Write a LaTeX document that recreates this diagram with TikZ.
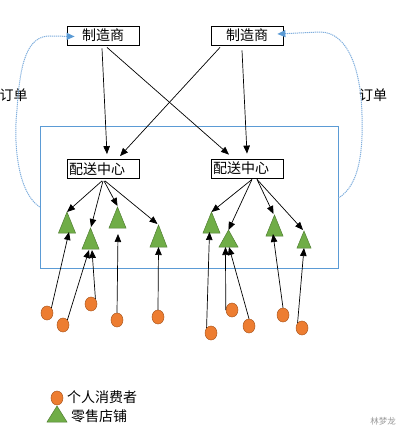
\documentclass[tikz,border=0pt]{standalone}
\usepackage{fontspec}
\setmainfont{Noto Sans CJK SC}
\usetikzlibrary{arrows.meta,calc,shapes.geometric}
\definecolor{orangefill}{HTML}{ED7D31}
\definecolor{orangeedge}{HTML}{AE5A21}
\definecolor{greenfill}{HTML}{70AD47}
\definecolor{greenedge}{HTML}{507E32}
\definecolor{frameblue}{HTML}{5B9BD5}
\definecolor{curveblue}{HTML}{7FAEDD}
\newcommand\mytri[5]{%
  \fill[trishape] (#2-#4,#3) -- (#2+#4,#3) -- (#2,#3-#5) -- cycle;
  \coordinate (#1a) at (#2,#3-#5);
  \coordinate (#1b) at (#2,#3);}
\tikzset{
  txt/.style={font=\fontsize{14}{16}\selectfont, inner sep=0pt},
  mbox/.style={draw=black, line width=0.8pt, minimum width=72pt, minimum height=19pt, inner sep=0pt, font=\fontsize{14}{16}\selectfont},
  dcbox/.style={mbox, text width=68pt, align=left},
  trishape/.style={fill=greenfill, draw=greenedge, line width=0.5pt},
  cons/.style={ellipse, fill=orangefill, draw=orangeedge, line width=0.5pt, minimum width=12pt, minimum height=14pt, inner sep=0pt},
  arr/.style={draw=black, line width=0.7pt, -{Triangle[length=8pt,width=6.5pt]}},
  order/.style={draw=curveblue, line width=1pt, dash pattern=on 1.2pt off 0.8pt, -{Triangle[length=8pt,width=7pt,fill=frameblue,color=frameblue]}},
}
\begin{document}
\begin{tikzpicture}[x=1pt,y=-1pt]
\useasboundingbox (0,0) rectangle (412,438);
% frame
\node[draw=frameblue, line width=0.8pt, minimum width=298pt, minimum height=142pt, inner sep=0pt] (zone) at (189,197) {};
% manufacturers
\node[mbox] (m1) at (103,35.5) {制造商};
\node[mbox] (m2) at (247,35.5) {制造商};
% distribution centres
\node[dcbox] (dc1) at (103,169) {配送中心};
\node[dcbox] (dc2) at (247,168.5) {配送中心};
% order labels
\node[txt] (o1) at (13.5,95) {订单};
\node[txt] (o2) at (373,95) {订单};
% order curves
\coordinate (l0) at ($(zone.west)+(0,10)$);
\coordinate (l1) at ($(m1.west)+(8,1)$);
\draw[order] (l0) .. controls (15,190) and (14,135) .. (17,110) .. controls (20,60) and (28,36) .. (50,36) -- (l1);
\coordinate (r0) at ($(zone.east)+(0,1)$);
\coordinate (r1) at ($(m2.east)+(-6,-1.5)$);
\draw[order] (r0) .. controls (360,185) and (363,150) .. (362,115) .. controls (361,70) and (348,32) .. (320,32) -- (r1);
% manufacturer -> DC
\draw[arr] ($(m1.south)+(-1,3)$) -- ($(dc1.north)+(4,-5)$);
\draw[arr] ($(m1.south)+(4,2)$) -- ($(dc2.north)+(-18,-4)$);
\draw[arr] ($(m2.south)+(-27,2)$) -- ($(dc1.north)+(17,-3)$);
\draw[arr] ($(m2.south)+(-5,5)$) -- ($(dc2.north)+(0,-5)$);
% retail shops
\mytri{t1}{67}{233}{8.5}{21}
\mytri{t2}{90.5}{249}{8.5}{21}
\mytri{t3}{117.5}{228}{8.5}{21}
\mytri{t4}{158.5}{247}{8.5}{22}
\mytri{t5}{211.5}{233}{8.5}{21}
\mytri{t6}{228.5}{247}{9.5}{17}
\mytri{t7}{274.5}{236}{8.5}{21}
\mytri{t8}{304}{248}{7}{17}
% DC -> shops
\draw[arr] ($(dc1.south)+(-1,2)$) -- (t1a);
\draw[arr] ($(dc1.south)+(0,2)$) -- ($(t2a)+(0.5,-1)$);
\draw[arr] ($(dc1.south)+(1,2)$) -- ($(t3a)+(0,-1)$);
\draw[arr] ($(dc1.south)+(2,2)$) -- ($(t4a)+(-1,-1)$);
\draw[arr] ($(dc2.south)+(5,1)$) -- (t5a);
\draw[arr] ($(dc2.south)+(5,1)$) -- (t6a);
\draw[arr] ($(dc2.south)+(10,1)$) -- ($(t7a)+(-1,-1)$);
\draw[arr] ($(dc2.south)+(10,1)$) -- ($(t8a)+(-1,-1)$);
% consumers
\node[cons] (c1) at (47,313) {};
\node[cons] (c2) at (63,325) {};
\node[cons] (c3) at (91,304) {};
\node[cons] (c4) at (117,320) {};
\node[cons] (c5) at (158,317) {};
\node[cons] (c6) at (211,333) {};
\node[cons] (c7) at (232,310) {};
\node[cons] (c8) at (249,326) {};
\node[cons] (c9) at (283,315) {};
\node[cons] (c10) at (302,328) {};
% consumers -> shops
\draw[arr] (c1.north east) -- ($(t1b)+(2,-1)$);
\draw[arr] (c2.north east) -- ($(t2b)+(-1.5,1)$);
\draw[arr] (c3.north east) -- ($(t2b)+(1.5,1)$);
\draw[arr] (c4.north) -- ($(t3b)+(0.5,6)$);
\draw[arr] (c5.north) -- (t4b);
\draw[arr] (c6.north west) -- ($(t5b)+(-2,-1)$);
\draw[arr] (c7.west) -- ($(t6b)+(-3,0)$);
\draw[arr] (c8.north) -- ($(t6b)+(0.5,0)$);
\draw[arr] (c9.north) -- ($(t7b)+(-1.5,-2)$);
\draw[arr] (c10.north west) -- (t8b);
% legend
\node[cons] (lc) at (57,398) {};
\node[txt, anchor=west] (lct) at (67,397) {个人消费者};
\mytri{lt}{57}{422}{10}{16}
\node[txt, anchor=west] (ltt) at (71,416) {零售店铺};
% watermark
\node[inner sep=0pt, text=black!40, font=\fontsize{8.5}{10}\selectfont] (wm) at (383,421) {林梦龙};
\end{tikzpicture}
\end{document}
